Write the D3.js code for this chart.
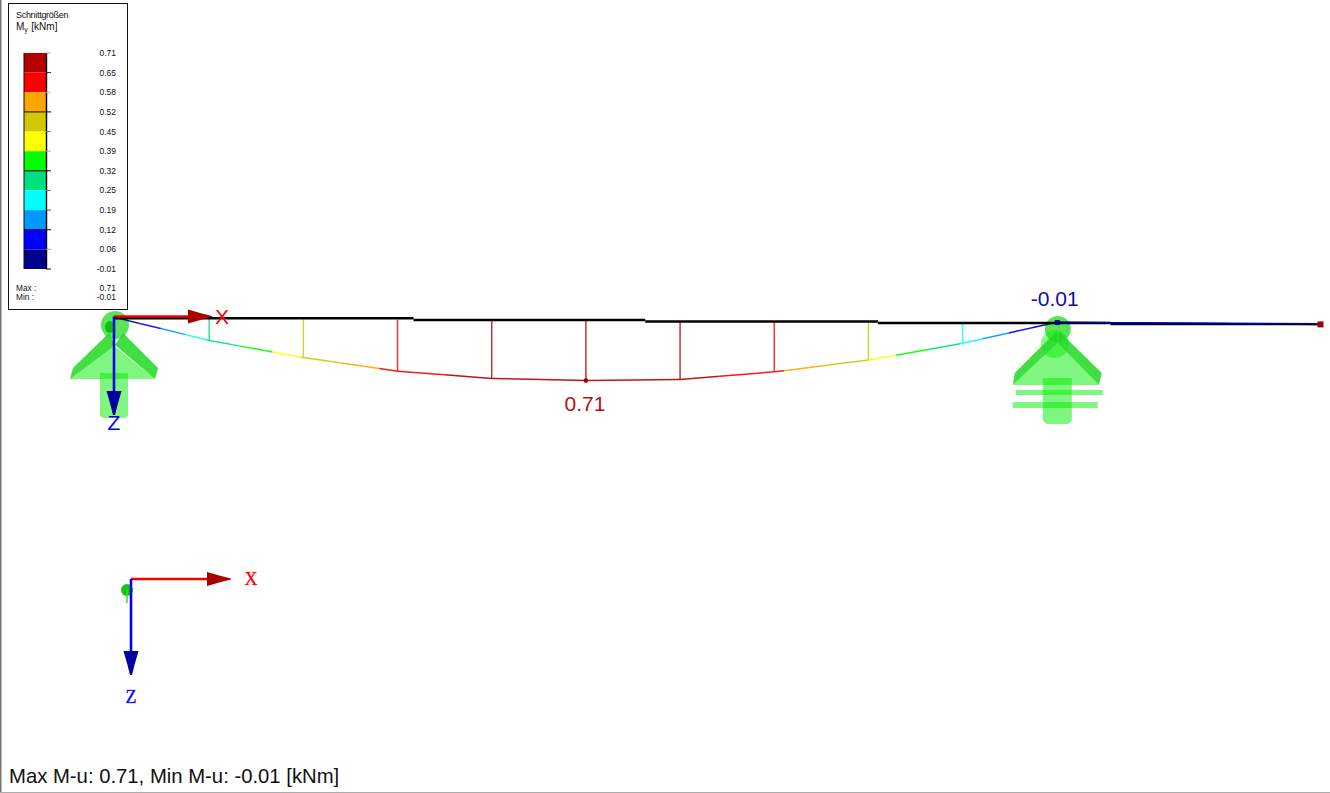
<!DOCTYPE html>
<html><head><meta charset="utf-8">
<script src="https://cdn.jsdelivr.net/npm/d3@7/dist/d3.min.js"></script>
<style>html,body{margin:0;padding:0;background:#fff;overflow:hidden}svg{display:block}text{font-family:"Liberation Sans",Arial,sans-serif}</style>
</head><body><svg id="c" width="1330" height="793"></svg>
<script>
// ---- data ----
const legendTitle = "Schnittgrößen";
const legendLabels = ["0.71","0.65","0.58","0.52","0.45","0.39","0.32","0.25","0.19","0.12","0.06","-0.01"];
const legendValues = [0.71,0.65,0.58,0.52,0.45,0.39,0.32,0.25,0.19,0.12,0.06,-0.01];
const bandColors = ["#b40000","#ff0000","#ffa500","#d2c800","#ffff00","#00ff00","#00e080","#00ffff","#0099ff","#0000ff","#00008c"];
const stations = [0,1,2,3,4,5,6,7,8,9,10,12.8];
const moments  = [-0.01,0.257,0.455,0.61,0.69,0.71,0.69,0.595,0.45,0.245,-0.01,0];
const memberSplit = [0,3.17,5.63,8.1,10.57,12.8];
const memberLevel = [0,1.7,3.2,4.7,5.9];
const verticalStations = [1,2,3,4,5,6,7,8,9];
const footer = "Max M-u: 0.71, Min M-u: -0.01 [kNm]";

// ---- scales ----
const x = d3.scaleLinear().domain([0,12.8]).range([115,1320.5]);
const my = d3.scaleLinear().domain([0,1]).range([0,84.5]);
const tilt = d3.scaleLinear().domain([0,12.8]).range([318.2,324.4]);
const legendY = d3.scalePoint().domain(legendLabels).range([53,269]);
const colorOf = v => {
  for (let i=0;i<bandColors.length;i++) if (v>=legendValues[i+1]) return bandColors[i];
  return bandColors[bandColors.length-1];
};
const svg = d3.select("#c");
const g = svg.append("g");

// frame
g.append("rect").attr("x",0).attr("y",0).attr("width",1.5).attr("height",793).attr("fill","#777");
g.append("rect").attr("x",0).attr("y",792).attr("width",1330).attr("height",1).attr("fill","#aaa");

// ---- supports ----
const green="#00ee00", band="#20d820";
function shapes(cx){
  const s=g.append("g").attr("transform",`translate(${cx},0)`);
  const P=(pts,o,f)=>s.append("path").attr("d","M"+pts.map(p=>p.join(",")).join("L")+"Z").attr("fill",f||green).attr("opacity",o);
  return {s,P};
}
{ // left support
  const {s,P}=shapes(x(0));
  s.append("circle").attr("cx",0).attr("cy",325).attr("r",14).attr("fill","#20dd20").attr("opacity",.75);
  P([[-15,373],[13,373],[13,416],[10,418],[-12,418],[-15,416]],.5);
  P([[-2,345],[-45,379],[40,379]],.5);
  P([[-45,379],[-42,368],[-6,333],[0,345]],.85,band);
  P([[40,379],[43,368],[8,333],[0,345]],.85,band);
  s.append("ellipse").attr("cx",-5).attr("cy",327).attr("rx",5).attr("ry",6).attr("fill","#10c010");
}
{ // right support
  const {s,P}=shapes(x(10)+1);
  s.append("circle").attr("cx",0).attr("cy",329).attr("r",13).attr("fill","#20dd20").attr("opacity",.75);
  s.append("circle").attr("cx",-3).attr("cy",344).attr("r",14).attr("fill",green).attr("opacity",.45);
  P([[-15,378],[14,378],[14,421],[10,424],[-11,424],[-15,421]],.5);
  P([[0,343],[-45,385],[41,385]],.5);
  P([[-45,385],[-43,373],[-1,331],[0,343]],.85,band);
  P([[41,385],[44,373],[1,331],[0,343]],.85,band);
  s.append("rect").attr("x",-42).attr("y",390).attr("width",87).attr("height",5).attr("fill",green).attr("opacity",.5);
  s.append("rect").attr("x",-45).attr("y",402).attr("width",85).attr("height",6).attr("fill",green).attr("opacity",.5);
}

// ---- verticals ----
verticalStations.forEach(i=>{
  const t=stations[i], m=moments[i];
  g.append("line").attr("x1",x(t)).attr("x2",x(t)).attr("y1",tilt(t)).attr("y2",tilt(t)+my(m))
    .attr("stroke",colorOf(m)).attr("stroke-width",1.5).attr("opacity",.8);
});

// ---- moment curve, split where it crosses a legend band ----
for(let i=0;i<stations.length-1;i++){
  const a=moments[i], b=moments[i+1];
  const cuts=legendValues.filter(v=>(v-a)*(v-b)<0).map(v=>(v-a)/(b-a)).sort(d3.ascending);
  const ts=[0,...cuts,1];
  for(let k=0;k<ts.length-1;k++){
    const f0=ts[k], f1=ts[k+1];
    const s0=stations[i]+(stations[i+1]-stations[i])*f0, s1=stations[i]+(stations[i+1]-stations[i])*f1;
    const v0=a+(b-a)*f0, v1=a+(b-a)*f1;
    g.append("line").attr("x1",x(s0)).attr("x2",x(s1))
      .attr("y1",tilt(s0)+my(v0)).attr("y2",tilt(s1)+my(v1))
      .attr("stroke",colorOf((v0+v1)/2)).attr("stroke-width",1.5).attr("opacity",.9);
  }
}

// ---- member (black beam) ----
memberLevel.forEach((d,i)=>{
  g.append("line").attr("x1",x(memberSplit[i])).attr("x2",x(memberSplit[i+1]))
   .attr("y1",318.3+d).attr("y2",318.3+d).attr("stroke",i===4?"#00002a":"#000").attr("stroke-width",i===4?2.2:2.6);
});
g.append("line").attr("x1",x(10)).attr("x2",x(12.8)).attr("y1",tilt(10.2)-.9).attr("y2",tilt(12.8)-.9).attr("stroke","#0000c8").attr("stroke-width",1);

// end nodes
g.append("rect").attr("x",x(12.8)-3).attr("y",tilt(12.8)-3).attr("width",6).attr("height",6).attr("fill","#a00000");
g.append("rect").attr("x",x(10)-2).attr("y",tilt(10)-3).attr("width",5).attr("height",5).attr("fill","#00008c");
g.append("circle").attr("cx",x(5)).attr("cy",tilt(5)+my(0.71)).attr("r",2.3).attr("fill","#a00000");

// ---- axis triads ----
function triad(ox,oy,lx,lz,tx,tz,opt){
  g.append("line").attr("x1",ox).attr("x2",lx-20).attr("y1",oy).attr("y2",oy).attr("stroke","#f00000").attr("stroke-width",2.6);
  g.append("path").attr("d",`M${lx-24},${oy-7}L${lx-10},${oy-3}L${lx},${oy-.5}L${lx},${oy+.5}L${lx-10},${oy+3}L${lx-24},${oy+7}Z`).attr("fill","#aa0000");
  g.append("line").attr("x1",ox).attr("x2",ox).attr("y1",oy).attr("y2",lz-20).attr("stroke","#0000f0").attr("stroke-width",2.6);
  g.append("path").attr("d",`M${ox-7.5},${lz-24}L${ox+7.5},${lz-24}L${ox+3.5},${lz-10}L${ox+1},${lz}L${ox-1},${lz}L${ox-3.5},${lz-10}Z`).attr("fill","#0000a0");
  [["X",tx,"#ff0000"],["Z",tz,"#0000ff"]].forEach(([t,p,c])=>{
    g.append("text").text(t).attr("x",p[0]).attr("y",p[1]).attr("fill",c).attr("text-anchor","middle")
      .attr("font-size",opt.size).style("font-family",opt.font)
      .attr("stroke",opt.stroke?c:"none").attr("stroke-width",opt.stroke||0).attr("stroke-opacity",.5);
  });
}
triad(114,316.5,212,415,[222,324],[114,430],{size:21,font:'"Liberation Sans"'});
// small node blob of the lower triad
g.append("circle").attr("cx",127).attr("cy",590).attr("r",6).attr("fill","#10c810");
g.append("line").attr("x1",127).attr("x2",127).attr("y1",590).attr("y2",603).attr("stroke","#30e030").attr("stroke-width",1.5);
triad(131,579,231,675,[251,585],[131,703],{size:18,font:'"Liberation Serif"',stroke:.6});

// ---- value labels ----
g.append("text").text("0.71").attr("x",x(5)-1).attr("y",411).attr("text-anchor","middle").attr("font-size",21).attr("fill","#b01010");
g.append("text").text("-0.01").attr("x",x(10)-2).attr("y",306).attr("text-anchor","middle").attr("font-size",21).attr("fill","#10109c");

// ---- footer ----
g.append("text").text(footer).attr("x",9).attr("y",783).attr("font-size",20.3).attr("fill","#111");

// ---- legend ----
const L=svg.append("g");
L.append("rect").attr("x",8.5).attr("y",3.5).attr("width",119).attr("height",306).attr("fill","#fff").attr("stroke","#111").attr("stroke-width",1);
L.append("text").text(legendTitle).attr("x",16).attr("y",18).attr("font-size",9).attr("letter-spacing",-.3).attr("fill","#111");
const t2=L.append("text").attr("x",16).attr("y",30).attr("font-size",10).attr("fill","#111");
t2.append("tspan").text("M");
t2.append("tspan").text("y").attr("font-size",7).attr("dy",2);
t2.append("tspan").text("[kNm]").attr("dy",-2).attr("dx",3.5);
bandColors.forEach((c,i)=>{
  const y0=legendY(legendLabels[i]), y1=legendY(legendLabels[i+1]);
  L.append("rect").attr("x",24).attr("y",y0).attr("width",22).attr("height",y1-y0).attr("fill",c);
});
L.append("line").attr("x1",24).attr("x2",24).attr("y1",53).attr("y2",269).attr("stroke","#111").attr("stroke-width",1);
L.append("line").attr("x1",46.5).attr("x2",46.5).attr("y1",53).attr("y2",269).attr("stroke","#000").attr("stroke-width",1.4);
const tickColor=["#aaa","#222","#bbb","#000","#777","#aaa","#000","#777","#555","#000","#999","#000"];
legendLabels.forEach((d,i)=>{
  const y=legendY(d), crosses=i%3===0&&i>0;
  L.append("line").attr("x1",crosses?24:46).attr("x2",51).attr("y1",y).attr("y2",y).attr("stroke",tickColor[i]).attr("stroke-width",1);
  L.append("text").text(d).attr("x",116).attr("y",y+3).attr("text-anchor","end").attr("font-size",8.5).attr("fill","#111");
});
L.append("text").text("Max :").attr("x",16).attr("y",291).attr("font-size",8.3).attr("fill","#111");
L.append("text").text("Min :").attr("x",16).attr("y",300).attr("font-size",8.3).attr("fill","#111");
L.append("text").text("0.71").attr("x",116).attr("y",291).attr("text-anchor","end").attr("font-size",8.5).attr("fill","#111");
L.append("text").text("-0.01").attr("x",116).attr("y",300).attr("text-anchor","end").attr("font-size",8.5).attr("fill","#111");
</script></body></html>
